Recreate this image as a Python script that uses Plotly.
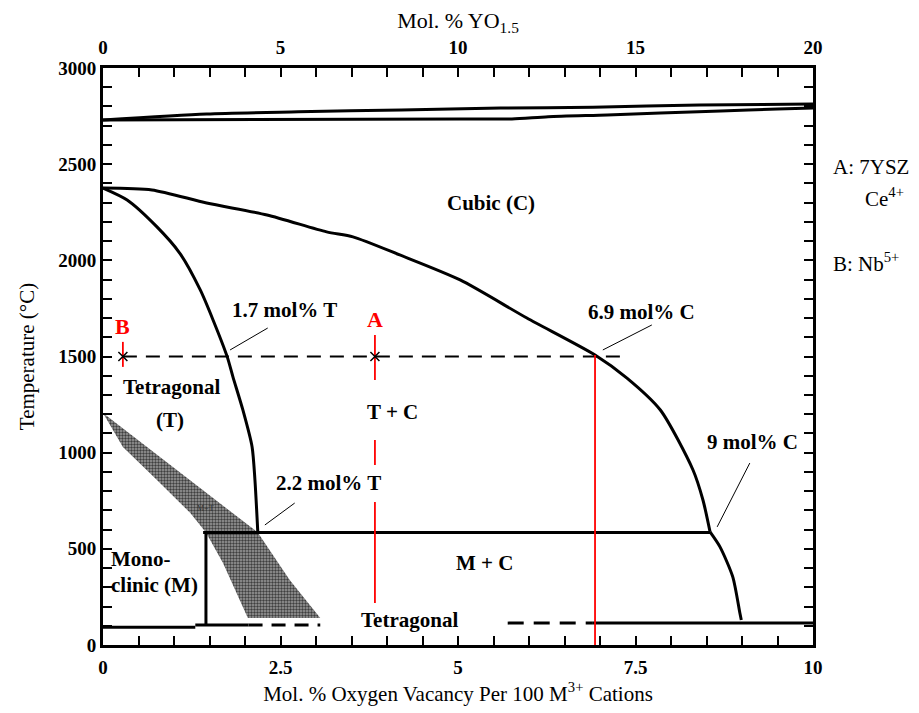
import plotly.graph_objects as go

# ---------------- data (x: mol.% oxygen vacancy, y: temperature °C) ----------------
liq_upper_x = [0, 1.46, 2.75, 4.2, 5.6, 6.9, 8.4, 10]
liq_upper_y = [2730, 2761, 2772, 2782, 2792, 2796, 2808, 2813]
liq_lower_x = [0, 5.03, 5.76, 6.27, 7.1, 7.85, 8.7, 9.5, 10]
liq_lower_y = [2730, 2735, 2735, 2747, 2756, 2766, 2777, 2787, 2792]

cubic_upper_x = [0, 0.69, 1.46, 2.31, 3.15, 3.52, 4.18, 5.03, 5.97, 6.93, 7.38, 7.85, 8.31, 8.45, 8.55]
cubic_upper_y = [2376, 2366, 2298, 2236, 2148, 2122, 2028, 1898, 1700, 1508, 1388, 1222, 910, 754, 588]
cubic_lower_x = [8.55, 8.69, 8.87, 8.97, 8.99]
cubic_lower_y = [588, 510, 354, 166, 130]

tetra_x = [0, 0.34, 0.76, 1.08, 1.37, 1.55, 1.75, 1.83, 1.97, 2.10, 2.14, 2.18]
tetra_y = [2376, 2314, 2174, 2038, 1846, 1690, 1498, 1394, 1222, 1030, 858, 588]

eutectoid_x = [1.41, 8.55]
eutectoid_y = [585, 585]

mono_vert_x = [1.45, 1.45]
mono_vert_y = [585, 104]

bottom_left_x = [0, 1.3]
bottom_left_y = [92, 92]
bottom_mid_x = [1.3, 2.05]
bottom_mid_y = [104, 104]
bottom_dash_left_x = [2.05, 3.06]
bottom_dash_left_y = [104, 104]
bottom_dash_right_x = [5.7, 6.9]
bottom_dash_right_y = [114, 114]
bottom_right_x = [6.9, 10]
bottom_right_y = [114, 114]

mt_region_x = [0, 2.18, 2.63, 3.06, 2.04, 1.97, 1.86, 1.69, 1.45, 1.23, 0.76, 0.28, 0]
mt_region_y = [1206, 585, 338, 140, 140, 198, 286, 426, 585, 686, 858, 1030, 1206]

iso_x = [0.28, 7.28]
iso_y = [1500, 1500]

points_x = [0.28, 3.83]
points_y = [1500, 1500]

red_B_x = [0.28, 0.28]
red_B_y = [1576, 1446]
red_A_x = [3.83, 3.83, None, 3.83, 3.83, None, 3.83, 3.83]
red_A_y = [1612, 1378, None, 1066, 936, None, 744, 218]
red_C_x = [6.93, 6.93]
red_C_y = [1508, 0]

leader_x = [2.32, 1.79, None, 7.73, 7.04, None, 2.70, 2.28, None, 9.11, 8.65]
leader_y = [1648, 1534, None, 1664, 1534, None, 738, 624, None, 946, 614]

labels_text = ["1.7 mol% T", "6.9 mol% C", "2.2 mol% T", "9 mol% C", "Cubic (C)",
               "Tetragonal", "(T)", "T + C", "M + C", "Tetragonal"]
labels_x = [2.55, 7.59, 3.17, 9.15, 5.46, 0.97, 0.94, 4.08, 5.37, 4.32]
labels_y = [1742, 1732, 842, 1056, 2298, 1342, 1170, 1212, 426, 130]

left_labels_text = ["Mono-", "clinic (M)"]
left_labels_x = [0.08, 0.08]
left_labels_y = [447, 312]

red_labels_text = ["B", "A"]
red_labels_x = [0.28, 3.83]
red_labels_y = [1654, 1690]

x_ticks = [0, 2.5, 5, 7.5, 10]
x_tick_text = ["0", "2.5", "5", "7.5", "10"]
x2_ticks = [0, 5, 10, 15, 20]
y_ticks = [0, 500, 1000, 1500, 2000, 2500, 3000]

SERIF = "Liberation Serif"

fig = go.Figure()

def line(x, y, width=3, color="black", dash="solid", shape="linear"):
    fig.add_trace(go.Scatter(x=x, y=y, mode="lines",
                             line=dict(color=color, width=width, dash=dash, shape=shape,
                                       smoothing=0.7 if shape == "spline" else None),
                             hoverinfo="skip", showlegend=False))

# shaded M+T region
fig.add_trace(go.Scatter(x=mt_region_x, y=mt_region_y, mode="lines", fill="toself",
                         line=dict(width=0, color="rgba(0,0,0,0)"),
                         fillcolor="#888888",
                         fillpattern=dict(shape=".", fgcolor="#3f3f3f", bgcolor="#9c9c9c",
                                          size=3, solidity=0.5, fillmode="replace"),
                         hoverinfo="skip", showlegend=False))

line(liq_upper_x, liq_upper_y, 3, shape="spline")
line(liq_lower_x, liq_lower_y, 3, shape="spline")
line(cubic_upper_x, cubic_upper_y, 3, shape="spline")
line(cubic_lower_x, cubic_lower_y, 3, shape="spline")
line(tetra_x, tetra_y, 3, shape="spline")
line(eutectoid_x, eutectoid_y, 3)
line(mono_vert_x, mono_vert_y, 3)
line(bottom_left_x, bottom_left_y, 3)
line(bottom_mid_x, bottom_mid_y, 3)
line(bottom_dash_left_x, bottom_dash_left_y, 3, dash="14px,9px")
line(bottom_dash_right_x, bottom_dash_right_y, 3, dash="16px,10px")
line(bottom_right_x, bottom_right_y, 3)
line(iso_x, iso_y, 2, dash="14px,9px")
line(leader_x, leader_y, 1)

line(red_B_x, red_B_y, 1.8, color="red")
line(red_A_x, red_A_y, 1.8, color="red")
line(red_C_x, red_C_y, 1.8, color="red")

fig.add_trace(go.Scatter(x=points_x, y=points_y, mode="markers",
                         marker=dict(symbol="x-thin-open", size=9, color="black",
                                     line=dict(color="black", width=1.5)),
                         hoverinfo="skip", showlegend=False))

# dummy trace to anchor the secondary axes
fig.add_trace(go.Scatter(x=[0], y=[0], xaxis="x2", yaxis="y2", mode="markers",
                         marker=dict(opacity=0), hoverinfo="skip", showlegend=False))

for t, x, y in zip(labels_text, labels_x, labels_y):
    fig.add_annotation(x=x, y=y, text=f"<b>{t}</b>", showarrow=False,
                       font=dict(family=SERIF, size=21, color="black"))
for t, x, y in zip(left_labels_text, left_labels_x, left_labels_y):
    fig.add_annotation(x=x, y=y, text=f"<b>{t}</b>", showarrow=False, xanchor="left",
                       font=dict(family=SERIF, size=21, color="black"))
for t, x, y in zip(red_labels_text, red_labels_x, red_labels_y):
    fig.add_annotation(x=x, y=y, text=f"<b>{t}</b>", showarrow=False,
                       font=dict(family=SERIF, size=22, color="red"))
fig.add_annotation(x=1.44, y=712, text="M+T", showarrow=False,
                   font=dict(family=SERIF, size=8, color="#333333"))

# right side notes
fig.add_annotation(xref="paper", yref="paper", x=1.025, y=0.853, xanchor="left", showarrow=False,
                   text="A: 7YSZ", font=dict(family=SERIF, size=21, color="black"))
fig.add_annotation(xref="paper", yref="paper", x=1.07, y=0.802, xanchor="left", showarrow=False,
                   text="Ce<sup>4+</sup>", font=dict(family=SERIF, size=21, color="black"))
fig.add_annotation(xref="paper", yref="paper", x=1.025, y=0.690, xanchor="left", showarrow=False,
                   text="B: Nb<sup>5+</sup>", font=dict(family=SERIF, size=21, color="black"))

axis_common = dict(showline=True, linewidth=3, linecolor="black", ticks="inside", automargin=False,
                   ticklen=9, tickwidth=2, tickcolor="black", showgrid=False, zeroline=False,
                   tickfont=dict(family=SERIF, size=19, color="black", weight="bold"))

fig.update_layout(
    width=911, height=705,
    margin=dict(l=95, r=106, t=60, b=68),
    paper_bgcolor="white", plot_bgcolor="white",
    showlegend=False,
    xaxis=dict(range=[0, 10], tickvals=x_ticks, ticktext=x_tick_text, ticklabelstandoff=3,
               minor=dict(ticks="inside", dtick=0.5, tick0=0, ticklen=9, tickwidth=2, tickcolor="black"),
               title=dict(text="Mol. % Oxygen Vacancy Per 100 M<sup>3+</sup> Cations",
                          font=dict(family=SERIF, size=21, color="black"), standoff=10),
               **axis_common),
    xaxis2=dict(range=[0, 20], overlaying="x", side="top", tickvals=x2_ticks, ticklabelstandoff=3,
                minor=dict(ticks="inside", dtick=1, tick0=0, ticklen=9, tickwidth=2, tickcolor="black"),
                title=dict(text="Mol. % YO<sub>1.5</sub>",
                           font=dict(family=SERIF, size=22, color="black"), standoff=12),
                **axis_common),
    yaxis=dict(range=[0, 3000], tickvals=y_ticks,
               minor=dict(ticks="inside", dtick=100, tick0=0, ticklen=9, tickwidth=2, tickcolor="black"),
               title=dict(text="Temperature (°C)",
                          font=dict(family=SERIF, size=21, color="black"), standoff=18),
               **axis_common),
    yaxis2=dict(range=[0, 3000], overlaying="y", side="right", tickvals=y_ticks, showticklabels=False,
                minor=dict(ticks="inside", dtick=100, tick0=0, ticklen=9, tickwidth=2, tickcolor="black"),
                **axis_common),
)

fig.write_html("out.html")
